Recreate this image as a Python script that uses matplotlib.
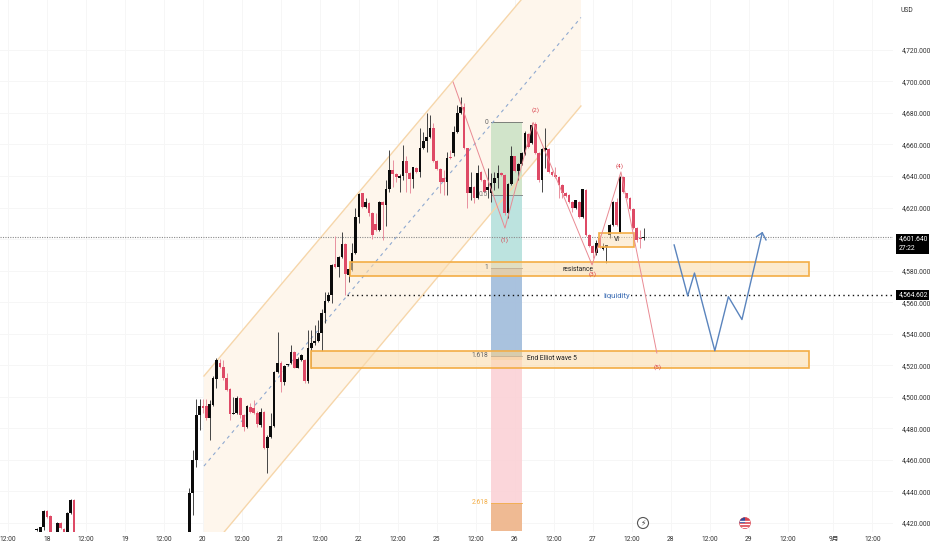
import matplotlib
matplotlib.use("Agg")
import matplotlib.pyplot as plt
from matplotlib.patches import Circle, Rectangle

plt.rcParams["font.family"] = ["Roboto", "Noto Sans CJK SC", "DejaVu Sans"]

# hourly candles, x is the bar number counted from the "18" tick
# bars 2 and 9-41 sit below the visible price range
idx = list(range(-3, 2)) + list(range(3, 9)) + list(range(42, 177))
opens = [4415.5, 4412.5, 4417.5, 4427.5, 4424.5, 4412.5, 4420, 4416.5, 4410, 4426.5, 4434.5,
    4400, 4439, 4460, 4488.5, 4494, 4494, 4486.5, 4495, 4511.5, 4521.5,
    4519, 4512, 4505, 4489, 4490, 4499.5, 4488.5, 4481, 4493.5, 4493,
    4490, 4482, 4490.5, 4467.5, 4474.5, 4481.5, 4516, 4521.5, 4509.5, 4520,
    4521.5, 4528.5, 4518.5, 4523.5, 4523.5, 4510, 4531, 4534, 4535.5, 4540.5,
    4553, 4560.5, 4564.5, 4584, 4582, 4588.5, 4597, 4577.5, 4580.5, 4591,
    4614, 4629, 4620.5, 4623, 4616.5, 4609.5, 4605.5, 4623.5, 4621.5, 4631.5,
    4644, 4641.5, 4639, 4640, 4649.5, 4642, 4638, 4645, 4642.5, 4657.5,
    4662, 4664.5, 4670.5, 4649.5, 4644.5, 4639, 4636.5, 4652, 4654.5, 4668,
    4680, 4683.5, 4657.5, 4629, 4633, 4626, 4642.5, 4637.5, 4631, 4629,
    4635.5, 4638.5, 4642, 4640.5, 4616.5, 4635, 4652.5, 4643, 4647.5, 4654,
    4666.5, 4661, 4673, 4654.5, 4637.5, 4656.5, 4657, 4642.5, 4640.5, 4639.5,
    4634.5, 4629, 4628, 4623.5, 4619.5, 4623.5, 4614, 4631, 4602.5, 4595.5,
    4591, 4601, 4594, 4595, 4602.5, 4609, 4623.5, 4604.5, 4639.5, 4629,
    4626, 4619, 4607, 4600.5, 4600.5]
highs = [4417, 4417.5, 4428.5, 4428.5, 4425, 4420.5, 4420.5, 4417, 4427, 4435, 4435,
    4442, 4466.5, 4498.5, 4498.5, 4498.5, 4498.5, 4498, 4513, 4524.5, 4524,
    4523.5, 4515, 4505.5, 4500, 4500.5, 4500, 4489, 4495, 4496, 4498,
    4491, 4493, 4491, 4475.5, 4490, 4516.5, 4541, 4522.5, 4520, 4521,
    4533, 4529, 4525, 4527, 4524, 4542.5, 4542.5, 4545.5, 4548.5, 4556,
    4566.5, 4566.5, 4584, 4602, 4589, 4604.5, 4597.5, 4581.5, 4597.5, 4619.5,
    4629, 4629.5, 4626, 4623.5, 4617, 4616.5, 4624, 4624, 4637.5, 4656.5,
    4650, 4642, 4641, 4659.5, 4653, 4642.5, 4646, 4645.5, 4670.5, 4668,
    4680, 4678.5, 4673.5, 4650, 4645, 4644, 4655, 4656.5, 4672, 4685,
    4690, 4686, 4658, 4642.5, 4633.5, 4647, 4643, 4638, 4645, 4642,
    4642.5, 4647, 4642.5, 4641, 4635.5, 4659, 4653, 4648, 4655, 4668.5,
    4667, 4673.5, 4674, 4655, 4657.5, 4670.5, 4657.5, 4643, 4645.5, 4640,
    4635, 4630, 4628.5, 4624, 4625, 4624, 4632, 4631.5, 4603, 4596,
    4599.5, 4602.5, 4597.5, 4596.5, 4609.5, 4624, 4626, 4640, 4640, 4629.5,
    4626.5, 4619.5, 4607.5, 4605.5, 4607]
lows = [4415, 4410, 4415.5, 4423, 4410, 4410, 4416, 4408, 4408, 4426, 4405,
    4395, 4425, 4455.5, 4479, 4490, 4485.5, 4472.5, 4494, 4505.5, 4518,
    4510.5, 4504, 4485.5, 4489, 4489, 4486.5, 4478.5, 4480, 4490, 4489,
    4481, 4481, 4467, 4451.5, 4474, 4481, 4515, 4503, 4507.5, 4519.5,
    4521, 4518, 4518, 4523, 4508.5, 4509, 4518.5, 4533, 4535, 4529,
    4547, 4560, 4559.5, 4581.5, 4576, 4588, 4564.5, 4572.5, 4580, 4590.5,
    4610, 4620, 4620, 4614.5, 4600, 4605, 4605, 4599.5, 4608, 4630,
    4633, 4636, 4630, 4637.5, 4630, 4629, 4632.5, 4642, 4639.5, 4657,
    4655, 4664, 4649, 4644, 4629, 4628, 4628, 4651, 4653, 4667.5,
    4679.5, 4657, 4619.5, 4624.5, 4623, 4625.5, 4637, 4629.5, 4626, 4623.5,
    4631, 4632.5, 4640, 4615, 4613.5, 4634.5, 4642.5, 4637.5, 4647, 4653.5,
    4658, 4660, 4654, 4636, 4630, 4645, 4642, 4640, 4639, 4626,
    4626, 4627, 4623, 4617, 4619, 4613.5, 4613.5, 4602, 4595, 4588,
    4590, 4594.5, 4593, 4585, 4601, 4608.5, 4608.5, 4604, 4629.5, 4625.5,
    4618.5, 4606.5, 4598, 4594.5, 4599.5]
closes = [4416, 4417.5, 4427.5, 4423.8, 4412.5, 4420, 4416.8, 4410, 4426.5, 4434.5, 4410,
    4439, 4460, 4488.5, 4494, 4493, 4486.5, 4495.5, 4512, 4523.5, 4519,
    4512, 4504.5, 4489, 4490, 4499.5, 4488.5, 4481, 4494, 4490.5, 4490,
    4482.5, 4490.5, 4467.5, 4474.5, 4481.5, 4516, 4521.5, 4509.5, 4519.5, 4520.5,
    4528.5, 4518.5, 4524, 4526.5, 4510, 4531, 4534, 4535.5, 4540.5, 4553,
    4560.5, 4564.5, 4583.5, 4582, 4588.5, 4597, 4578, 4581, 4591, 4614,
    4628.5, 4620.5, 4623.5, 4616.5, 4602.5, 4605.5, 4623.5, 4621.5, 4631.5, 4644,
    4641.5, 4639.5, 4640, 4649.5, 4642, 4638, 4645.5, 4642.5, 4657.5, 4662,
    4664.5, 4670.5, 4649.5, 4644.5, 4636.5, 4636.5, 4651.5, 4651.5, 4668, 4680,
    4683.5, 4657.5, 4629, 4633, 4626, 4642, 4637.5, 4630, 4633, 4635.5,
    4638.5, 4642, 4640.5, 4616.5, 4635, 4652.5, 4643, 4647.5, 4654.5, 4667.5,
    4658.5, 4672.5, 4654.5, 4637.5, 4657, 4657.5, 4642.5, 4640.5, 4639.5, 4634.5,
    4629, 4627.5, 4623.5, 4619.5, 4624.5, 4614, 4631.5, 4602.5, 4595.5, 4591,
    4597.5, 4595, 4595, 4596, 4609, 4623.5, 4609, 4639.5, 4630, 4626,
    4619, 4607, 4599.5, 4600, 4601.64]

day_ticks = [-11.5, 0, 11.5, 23, 34.5, 46, 57.5, 69, 80.5, 92, 103.5, 115, 126.5, 138, 149.5, 161, 172.5, 184, 195.5, 207, 218.5, 232, 243.5]
day_labels = ["12:00", "18", "12:00", "19", "12:00", "20", "12:00", "21", "12:00", "22", "12:00", "25", "12:00", "26", "12:00", "27", "12:00", "28", "12:00", "29", "12:00", "9月", "12:00"]
price_ticks = list(range(4420, 4721, 20))

last_price = 4601.64
liq_price = 4564.602

# drawings
chan_x = [46.3, 157.5]
chan_upper = [4513.2, 4796.6]
chan_lower = [4399.0, 4684.4]

fib_x = [131.0, 140.1]
fib_edges = [4674, 4628, 4581.7, 4576, 4528.4, 4526, 4523.5, 4433, 4415]
fib_colors = ["#cfe4c9", "#b9e2de", "#b3b4ae", "#a5bfdd", "#9fb2a8", "#f8cba8", "#fbd4d8", "#efb78d"]

zone_x = [89.4, 224.8]
zone_res = [4576.6, 4585.5]
zone2_x = [77.9, 224.8]
zone_end = [4518.4, 4529.0]
vi_x = [162.8, 173.2]
vi_box = [4595.0, 4603.9]

wave_x = [119.8, 135.1, 143.4, 160.8, 169.3, 179.9]
wave_y = [4699.6, 4607, 4674, 4583.6, 4642.6, 4527.8]
blue_x = [185, 189, 191, 197, 201, 205, 211]
blue_y = [4596.3, 4564, 4578.5, 4529.2, 4563.5, 4549, 4604]

BLACK = "#0b0b0b"
RED = "#de4a66"
ORANGE = "#f3ad45"
FS = 4.9

fig = plt.figure(figsize=(9.32, 5.5), dpi=100)
ax = fig.add_axes([0, 18 / 550, 893 / 932, 532 / 550])
ax.set_xlim(-13.86, 249.56)
ax.set_ylim(4414.3, 4751.6)
for s in ax.spines.values():
    s.set_visible(False)

ax.grid(True, color="#f6f6f6", lw=0.7, zorder=0)
ax.set_axisbelow(True)
ax.set_xticks(day_ticks)
ax.set_xticklabels(day_labels, fontsize=FS, color="#333333")
ax.yaxis.tick_right()
ax.set_yticks(price_ticks)
# 4,600 is hidden behind the last price box
ax.set_yticklabels(["" if p == 4600 else f"{p:,.3f}" for p in price_ticks], fontsize=FS, color="#333333")
ax.tick_params(axis="both", length=0)
ax.tick_params(axis="x", pad=3)
ax.tick_params(axis="y", pad=6)

# channel
ax.fill_between(chan_x, chan_lower, chan_upper, color="#fef6ec", lw=0, zorder=1)
ax.plot(chan_x, chan_upper, color="#f6d6aa", lw=1.0, zorder=2)
ax.plot(chan_x, chan_lower, color="#f6d6aa", lw=1.0, zorder=2)
ax.plot(chan_x, [(a + b) / 2 for a, b in zip(chan_upper, chan_lower)], color="#8fa9d0", lw=0.8, ls=(0, (3, 3.5)), zorder=2)

# fib bands
for k in range(len(fib_colors)):
    ax.fill_between(fib_x, fib_edges[k + 1], fib_edges[k], color=fib_colors[k], lw=0, zorder=1.5, alpha=0.95)
for lev, txt, col in [(4674, "0", "#666666"), (4628, "0.5", "#777777"), (4581.7, "1", "#666666"), (4526, "1.618", "#666666"), (4433, "2.618", ORANGE)]:
    ax.plot(fib_x, [lev, lev], color=col, lw=0.7, alpha=0.8, zorder=1.8)
    ax.text(fib_x[0] - 0.9, lev, txt, fontsize=FS, color=col, ha="right", va="center", zorder=6)

# price lines
ax.axhline(last_price, color="#8a8a8a", lw=0.8, ls=(0, (1, 1.2)), zorder=2.5)
ax.plot([88.5, 249.56], [liq_price, liq_price], color="#111111", lw=1.0, ls=(0, (1, 2.4)), zorder=2.5)

# candles
for i in range(len(idx)):
    up = closes[i] >= opens[i]
    ax.vlines(idx[i], lows[i], highs[i], color="#444444" if up else "#e9909f", lw=0.7, zorder=3)
    bot = min(opens[i], closes[i])
    ax.bar(idx[i], max(abs(closes[i] - opens[i]), 0.8), bottom=bot, width=0.8, color=BLACK if up else RED, lw=0, zorder=3.2)

# zones
for xs, ys in [(zone_x, zone_res), (zone2_x, zone_end)]:
    ax.add_patch(Rectangle((xs[0], ys[0]), xs[1] - xs[0], ys[1] - ys[0], fc="#fbdcae", ec="none", alpha=0.6, zorder=4))
    ax.add_patch(Rectangle((xs[0], ys[0]), xs[1] - xs[0], ys[1] - ys[0], fc="none", ec=ORANGE, lw=1.2, zorder=4.1))
ax.add_patch(Rectangle((vi_x[0], vi_box[0]), vi_x[1] - vi_x[0], vi_box[1] - vi_box[0], fc="#fbdcae", ec="none", alpha=0.45, zorder=3.5))
ax.add_patch(Rectangle((vi_x[0], vi_box[0]), vi_x[1] - vi_x[0], vi_box[1] - vi_box[0], fc="none", ec=ORANGE, lw=1.2, zorder=4.1))

# wave lines
ax.plot(wave_x, wave_y, color="#e98a93", lw=0.7, zorder=4.5)
ax.plot(blue_x, blue_y, color="#5a84bd", lw=1.0, zorder=4.5)
ax.plot([209.3, 211, 212.1], [4601.6, 4604, 4599.5], color="#5a84bd", lw=1.0, zorder=4.5)

for x, y, t in [(135.1, 4599.5, "(1)"), (144, 4681.5, "(2)"), (161, 4578, "(3)"), (169, 4646.5, "(4)"), (180.2, 4519, "(5)")]:
    ax.text(x, y, t, fontsize=4.6, color="#d9434f", ha="center", va="center", zorder=6)

ax.text(156.5, 4581, "resistance", fontsize=FS, color="#222222", ha="center", va="center", zorder=6)
ax.text(149, 4524.5, "End Elliot wave 5", fontsize=FS, color="#222222", ha="center", va="center", zorder=6)
ax.text(168, 4564, "liquidity", fontsize=5.6, color="#3f6fb5", ha="center", va="center", zorder=6,
        bbox=dict(fc="white", ec="none", pad=1.2))
ax.text(168, 4600, "VI", fontsize=4.8, color="#222222", ha="center", va="center", zorder=6)

# price scale boxes
trans = ax.get_yaxis_transform()
ax.add_patch(Rectangle((896 / 893, 4590.3), 33 / 893, 12.7, transform=trans, fc="#000000", ec="none", clip_on=False, zorder=7))
ax.text(899 / 893, 4600.2, f"{last_price:,.3f}", transform=trans, fontsize=FS, color="white", va="center", zorder=8, clip_on=False)
ax.text(899 / 893, 4594, "27:22", transform=trans, fontsize=FS, color="white", va="center", zorder=8, clip_on=False)
ax.add_patch(Rectangle((896 / 893, 4561.5), 33 / 893, 6.3, transform=trans, fc="#000000", ec="none", clip_on=False, zorder=7))
ax.text(899 / 893, liq_price, f"{liq_price:,.3f}", transform=trans, fontsize=FS, color="white", va="center", zorder=8, clip_on=False)
fig.text(907 / 932, 1 - 11 / 550, "USD", fontsize=FS, color="#333333", ha="center", va="center")

# event icons along the bottom, on an overlay in pixels
ax2 = fig.add_axes([0, 0, 1, 1], frameon=False)
ax2.set_xlim(0, 932)
ax2.set_ylim(550, 0)
ax2.set_xticks([])
ax2.set_yticks([])
ax2.add_patch(Circle((643, 523), 5.5, fc="white", ec="#555555", lw=0.8))
ax2.text(643, 523, "⚡", fontsize=5.5, family=["DejaVu Sans"], ha="center", va="center", color="#444444")
flag = Circle((745, 523), 5.5, fc="#d9434f", ec="#d9434f", lw=0.5)
ax2.add_patch(flag)
for yy in [520.5, 523.5, 526.5]:
    ln = ax2.plot([739, 751], [yy, yy], color="white", lw=1.0)[0]
    ln.set_clip_path(flag)
blue = ax2.add_patch(Rectangle((739, 517), 6, 6, fc="#2f4b9a", ec="none"))
blue.set_clip_path(flag)

fig.savefig("out.png", dpi=100)
